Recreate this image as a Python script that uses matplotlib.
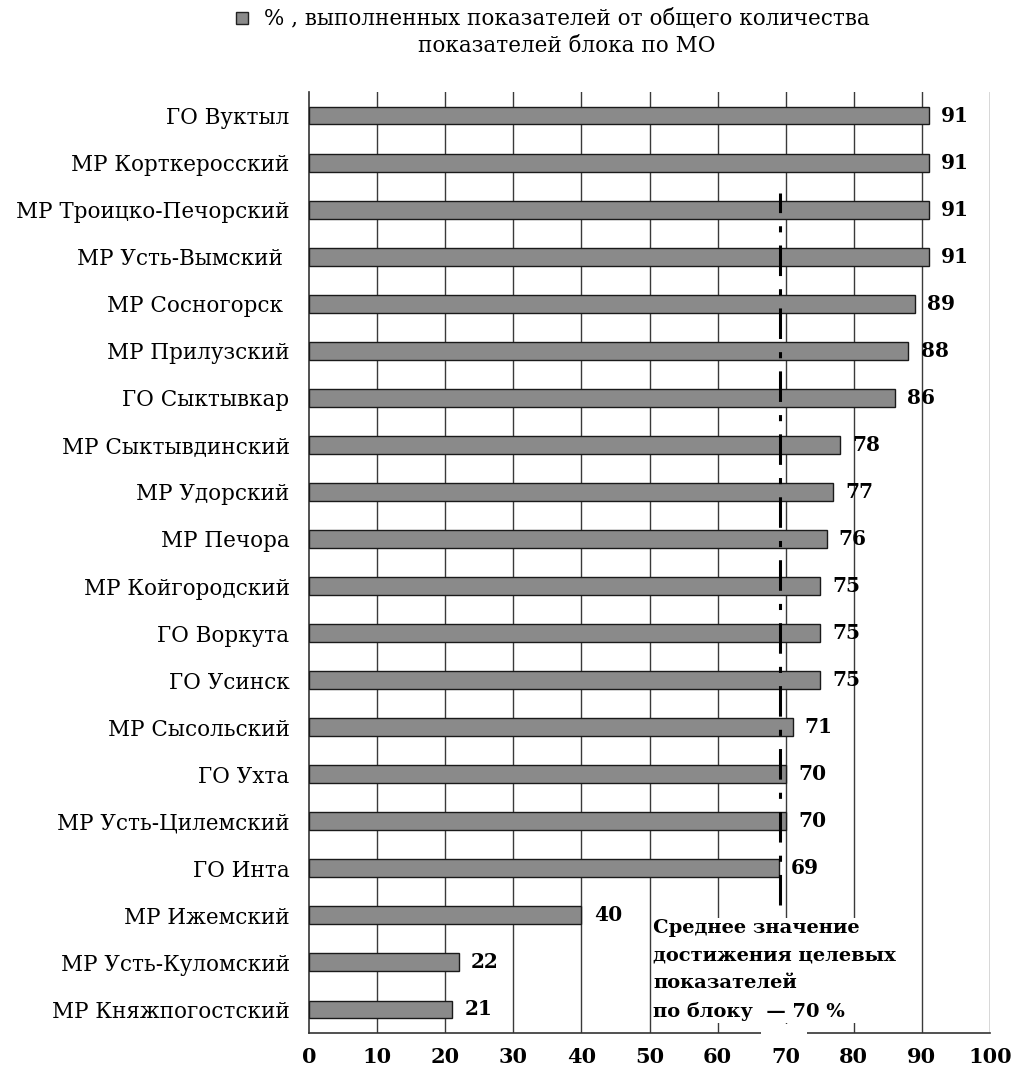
import matplotlib
matplotlib.use("Agg")
import matplotlib.pyplot as plt
from matplotlib.patches import Rectangle

categories = ["ГО Вуктыл", "МР Корткеросский", "МР Троицко-Печорский", "МР Усть-Вымский ",
              "МР Сосногорск ", "МР Прилузский", "ГО Сыктывкар", "МР Сыктывдинский",
              "МР Удорский", "МР Печора", "МР Койгородский", "ГО Воркута", "ГО Усинск",
              "МР Сысольский", "ГО Ухта", "МР Усть-Цилемский", "ГО Инта", "МР Ижемский",
              "МР Усть-Куломский", "МР Княжпогостский"]
values = [91, 91, 91, 91, 89, 88, 86, 78, 77, 76, 75, 75, 75, 71, 70, 70, 69, 40, 22, 21]
xticks = [0, 10, 20, 30, 40, 50, 60, 70, 80, 90, 100]
mean_value = 69.2
legend_label = "% , выполненных показателей от общего количества\nпоказателей блока по МО"
note_text = "Среднее значение\nдостижения целевых\nпоказателей\nпо блоку  — 70 %"

plt.rcParams['font.family'] = ['DejaVu Serif']

W, H = 1018, 1074
fig = plt.figure(figsize=(W / 100, H / 100), dpi=100)
ax_top, ax_bot = 92, 1033
ax = fig.add_axes([309 / W, 1 - ax_bot / H, (990 - 309) / W, (ax_bot - ax_top) / H])

y = list(range(len(categories)))
ax.barh(y, values, height=0.38, color="#8a8a8a", edgecolor="#1a1a1a", linewidth=1.0, zorder=3)

ax.set_xlim(0, 100)
ax.set_ylim(len(categories) - 0.5, -0.5)
ax.set_xticks(xticks)
ax.set_xticklabels([str(t) for t in xticks], fontsize=15, fontweight='bold')
ax.tick_params(axis='x', length=0, pad=10)
ax.set_yticks(y)
ax.set_yticklabels(categories, fontsize=15.5)
ax.tick_params(axis='y', length=0, pad=14)

for t in xticks[1:]:
    ax.axvline(t, color="#3a3a3a", linewidth=1.0, zorder=1)

for s in ['top', 'right']:
    ax.spines[s].set_visible(False)
for s in ['left', 'bottom']:
    ax.spines[s].set_color("#333333")
    ax.spines[s].set_linewidth(1.2)

for yi, v in zip(y, values):
    ax.text(v + 1.8, yi, str(v), va='center', ha='left', fontsize=14.5, fontweight='bold', zorder=5)

span = ax_bot - ax_top
ax.axvline(mean_value, ymin=1 - (905 - ax_top) / span, ymax=1 - (193 - ax_top) / span,
           color="black", linewidth=2.2, linestyle=(0, (10, 4.3, 2, 4.3)), zorder=6)

ax.text(50.5, 17.08, note_text, ha='left', va='top', fontsize=14, fontweight='bold',
        linespacing=1.68, zorder=7,
        bbox=dict(facecolor='white', edgecolor='none', pad=1))
ax.add_patch(Rectangle(((761 - 309) / 681 * 100, 19.3), (807 - 761) / 681 * 100, 0.5,
                       facecolor='white', edgecolor='none', clip_on=False, zorder=8))

# legend
fig.patches.append(Rectangle((236 / W, 1 - 24 / H), 12 / W, 12 / H, transform=fig.transFigure,
                             facecolor="#8a8a8a", edgecolor="#222222", linewidth=1.0))
fig.text(567 / W, 1 - 8 / H, legend_label, ha='center', va='top', fontsize=15.5, linespacing=1.3)

fig.savefig("out.png", dpi=100)
